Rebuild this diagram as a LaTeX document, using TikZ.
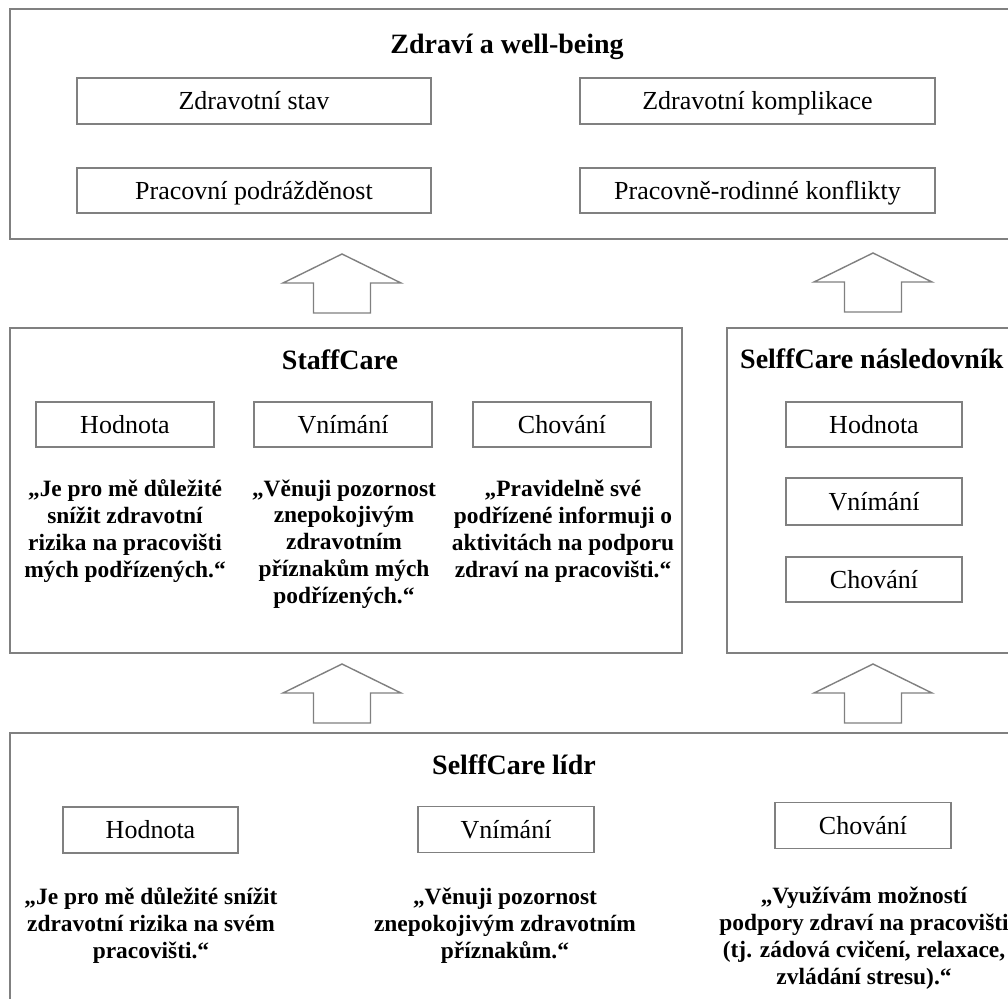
\documentclass[tikz,border=0pt]{standalone}
\usepackage{fontspec}
\setmainfont{Liberation Serif}
\definecolor{bordergray}{RGB}{128,128,128}
\begin{document}
\begin{tikzpicture}[x=1pt,y=-1pt,
  frame/.style={draw=bordergray,line width=1.6pt,rectangle,inner sep=0pt},
  lbl/.style={draw=bordergray,line width=1.4pt,rectangle,minimum height=46pt,inner sep=0pt,
    font=\fontsize{26}{30}\selectfont,text height=17pt,text depth=0pt},
  ttl/.style={anchor=base,inner sep=0pt,font=\fontsize{28}{32}\selectfont\bfseries},
  quote/.style={anchor=base,inner sep=0pt,align=center,font=\fontsize{23.4}{26.7}\selectfont\bfseries},
  blockarrow/.style={draw=bordergray,line width=1.4pt,fill=white,line join=miter}]
\useasboundingbox (0,0) rectangle (1008,998);
\fill[white] (0,0) rectangle (1008,998);

% frames
\node[frame,minimum width=1010pt,minimum height=230pt] (health) at (515,124) {};
\node[frame,minimum width=672pt,minimum height=325pt] (staff) at (346,490.5) {};
\node[frame,minimum width=294pt,minimum height=325pt] (follower) at (874,490.5) {};
\node[frame,minimum width=1010pt,minimum height=287pt] (leader) at (515,876.5) {};

% titles
\node[ttl] (healthT) at (507,54) {Zdraví a well-being};
\node[ttl] (staffT) at (340,369) {StaffCare};
\node[ttl,anchor=base west] (followerT) at (740,368) {SelffCare následovník};
\node[ttl] (leaderT) at (514,774) {SelffCare lídr};

% top boxes
\node[lbl,minimum width=354pt] (h1) at (254,101) {Zdravotní stav};
\node[lbl,minimum width=355pt] (h2) at (757.5,101) {Zdravotní komplikace};
\node[lbl,minimum width=354pt,minimum height=45pt] (h3) at (254,190.5) {Pracovní podrážděnost};
\node[lbl,minimum width=355pt,minimum height=45pt] (h4) at (757.5,190.5) {Pracovně-rodinné konflikty};

% staffcare boxes
\node[lbl,minimum width=178pt,minimum height=45pt] (s1) at (125,424.5) {Hodnota};
\node[lbl,minimum width=178pt,minimum height=45pt] (s2) at (343,424.5) {Vnímání};
\node[lbl,minimum width=178pt,minimum height=45pt] (s3) at (562,424.5) {Chování};

% follower boxes
\node[lbl,minimum width=176pt,minimum height=45pt] (f1) at (874,424.5) {Hodnota};
\node[lbl,minimum width=176pt,minimum height=47pt] (f2) at (874,501.5) {Vnímání};
\node[lbl,minimum width=176pt,minimum height=45pt] (f3) at (874,579.5) {Chování};

% leader boxes
\node[lbl,minimum width=175pt] (l1) at (150.5,830) {Hodnota};
\node[lbl,minimum width=176pt] (l2) at (506,829.5) {Vnímání};
\node[lbl,minimum width=176pt] (l3) at (863,825.5) {Chování};

% staffcare quotes (anchored at the baseline of their last line)
\node[quote] (sq1) at (125,577) {„Je pro mě důležité\\snížit zdravotní\\rizika na pracovišti\\mých podřízených.“};
\node[quote] (sq2) at (344,603) {„Věnuji pozornost\\znepokojivým\\zdravotním\\příznakům mých\\podřízených.“};
\node[quote] (sq3) at (563,577) {„Pravidelně své\\podřízené informuji o\\aktivitách na podporu\\zdraví na pracovišti.“};

% leader quotes
\node[quote] (lq1) at (151,958) {„Je pro mě důležité snížit\\zdravotní rizika na svém\\pracovišti.“};
\node[quote] (lq2) at (505,958) {„Věnuji pozornost\\znepokojivým zdravotním\\příznakům.“};
\node[quote] (lq3) at (864,984) {„Využívám možností\\podpory zdraví na pracovišti\\(tj. zádová cvičení, relaxace,\\zvládání stresu).“};

% block arrows
\coordinate (aSH) at (342,254);
\coordinate (aFH) at (873,253);
\coordinate (aLS) at (342,664);
\coordinate (aLF) at (873,664);
\foreach \c in {aSH,aFH,aLS,aLF}{
  \draw[blockarrow] (\c) -- ++(59,29) -- ++(-30.5,0) -- ++(0,30) -- ++(-57,0) -- ++(0,-30) -- ++(-30.5,0) -- cycle;
}
\end{tikzpicture}
\end{document}
